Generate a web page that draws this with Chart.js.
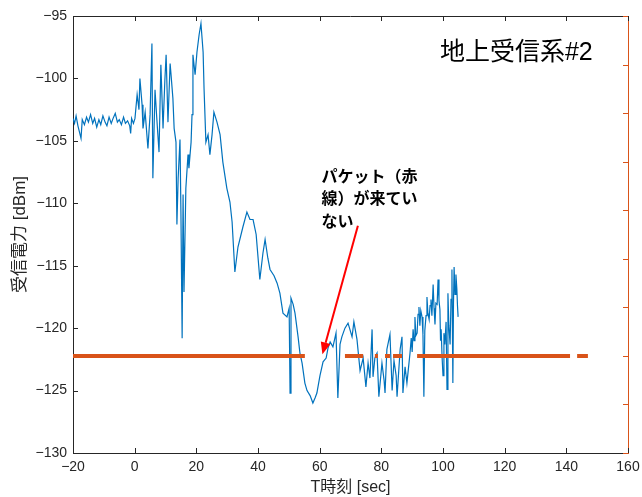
<!DOCTYPE html>
<html>
<head>
<meta charset="utf-8">
<script src="https://cdn.jsdelivr.net/npm/chart.js@4/dist/chart.umd.min.js"></script>
<style>
  html, body { margin: 0; padding: 0; background: #fff; }
  #wrap { width: 642px; height: 497px; position: relative; }
</style>
</head>
<body>
<div id="wrap"><canvas id="c" width="642" height="497"></canvas></div>
<script>
// ---- Data ----
const timeSec = [
  -20, -19.5, -19, -18.4, -17.4, -17, -16.3, -15.6, -15, -14.3, -13.6, -13, -12.3, -11.6, -11, -10.3,
  -9.6, -9, -8.3, -7.6, -7, -6.3, -5.6, -5, -4.3, -3.6, -3, -2.3, -1.6, -1.3, -1, -0.4,
  0.1, 0.8, 1.4, 1.7, 2.4, 2.7, 3.4, 4.3, 5.0, 5.6, 5.9, 6.6, 7.2, 7.9, 8.5, 9.2, 9.8, 10.2,
  10.8, 11.5, 11.8, 12.4, 12.8, 13.4, 13.7, 14.1, 14.7, 15.0, 15.4, 15.7, 16.0, 16.6, 17.3, 17.6,
  18.3, 18.6, 18.9, 19.6, 20.2, 20.9, 21.5, 22.2, 22.5, 23.1, 23.8, 24.4, 25.1, 25.7, 26.7, 27.7,
  28.6, 29.9, 30.9, 31.6, 32.5, 33.5, 35.1, 36.4, 37.4, 38.4, 39.4, 40.6, 41.6, 42.3, 43.2, 43.9,
  45.2, 46.2, 47.1, 48.1, 49.4, 50.1, 50.4, 50.7, 51.4, 52.0, 53.0, 53.6, 54.3, 55.2, 55.9, 56.9,
  57.8, 58.5, 59.1, 60.1, 61.1, 62.1, 62.7, 63.4, 64.3, 65.3, 65.9, 66.6, 67.2, 68.2, 69.2, 69.8,
  70.5, 71.1, 72.1, 73.1, 74.1, 75.0, 75.7, 76.3, 77.0, 77.3, 77.9, 78.6, 79.2, 80.2, 80.9, 81.2,
  81.8, 82.8, 83.5, 84.1, 84.8, 85.1, 86.1, 86.7, 87.0, 87.7, 88.3,
  89.3, 89.7, 90.0, 90.3, 90.6, 90.9, 91.2, 91.6, 91.9, 92.2, 92.5, 92.8, 93.2, 93.5, 93.8, 94.1,
  94.5, 94.8, 95.1, 95.5, 95.8, 96.1, 96.4, 96.8, 97.1, 97.4, 97.7, 98.1, 98.4, 98.7, 99.0, 99.2,
  99.4, 99.7, 100.0, 100.3, 100.6, 101.0, 101.3, 101.6, 101.9, 102.3, 102.6, 102.9, 103.2, 103.4, 103.6, 103.9,
  104.2, 104.5, 104.7, 104.9
];
const powerDbm = [
  -103.2, -103.6, -103.0, -103.8, -104.8, -103.3, -103.7, -103.1, -103.5, -102.9, -103.6, -103.2, -103.9, -103.3, -103.7, -103.0,
  -103.5, -103.8, -103.1, -103.6, -103.2, -102.8, -103.5, -103.3, -103.7, -103.1, -103.6, -103.4, -103.8, -104.4, -103.2, -103.6,
  -103.2, -101.3, -102.5, -100.0, -102.1, -104.0, -102.7, -105.6, -102.9, -97.2, -108.0, -100.9, -103.3, -105.9, -98.9, -104.0, -100.1, -98.1,
  -103.5, -98.8, -99.7, -101.6, -104.0, -105.1, -111.7, -108.0, -104.9, -110.7, -120.8, -109.3, -117.1, -108.8, -106.1, -107.2,
  -105.1, -102.9, -98.1, -99.7, -97.9, -96.5, -95.6, -97.9, -100.8, -105.1, -104.5, -106.1, -104.5, -102.7, -103.5, -104.5,
  -106.7, -108.8, -109.9, -111.5, -115.5, -113.5, -111.9, -110.7, -111.3, -111.3, -112.5, -116.1, -114.0, -112.9, -114.4, -115.3,
  -115.8, -116.4, -117.2, -118.8, -119.1, -118.4, -125.2, -117.6, -118.1, -118.8, -120.7, -122.0, -122.8, -124.4, -125.0, -125.4,
  -126.0, -125.6, -125.2, -123.8, -122.7, -122.4, -121.6, -121.1, -121.5, -120.4, -125.6, -121.3, -120.7, -120.0, -119.6, -120.1,
  -120.7, -119.5, -120.9, -123.4, -122.4, -124.7, -122.8, -124.0, -120.1, -123.9, -122.4, -122.0, -125.5, -122.8, -124.2, -125.2,
  -121.7, -120.5, -125.0, -122.6, -123.8, -125.5, -121.7, -120.7, -125.2, -123.1, -124.4,
  -122.0, -120.8, -121.9, -120.1, -121.0, -119.1, -120.6, -120.4, -118.9, -118.3, -119.8, -118.6, -119.1, -120.5, -125.5, -120.2,
  -119.0, -117.5, -118.8, -119.3, -118.2, -117.7, -119.0, -116.5, -118.4, -119.7, -118.0, -118.1, -116.1, -117.8, -118.5, -121.0,
  -120.1, -122.3, -123.8, -120.4, -121.3, -119.5, -124.9, -117.2, -119.8, -121.3, -117.7, -115.3, -124.4, -118.0, -115.1, -117.3,
  -115.7, -116.9, -118.2, -119.1
];
// packet received intervals (red line), on the right axis at level 2
const packetStart = [-20, 68.2, 77.9, 81.2, 83.8, 91.6, 143.5];
const packetEnd   = [55.2, 74.1, 78.9, 82.8, 86.7, 141.2, 147.0];
const packetLevel = 2;

const xTicks = [-20, 0, 20, 40, 60, 80, 100, 120, 140, 160];
const yTicks = [-130, -125, -120, -115, -110, -105, -100, -95];
const y2Ticks = [0, 1, 2, 3, 4, 5, 6, 7, 8, 9];

const xTitle = 'T時刻 [sec]';
const yTitle = '受信電力 [dBm]';
const chartTitle = '地上受信系#2';
const noteLines = ['パケット（赤', '線）が来てい', 'ない'];

// ---- Build datasets ----
const blueData = timeSec.map((t, i) => ({ x: t, y: powerDbm[i] }));
const packetData = [];
packetStart.forEach((s, i) => {
  packetData.push({ x: s, y: packetLevel });
  packetData.push({ x: packetEnd[i], y: packetLevel });
  packetData.push({ x: (packetEnd[i] + (packetStart[i + 1] ?? packetEnd[i] + 1)) / 2, y: null });
});

const AX = '#262626';
const ORANGE = '#D95319';
const BLUE = '#0072BD';
const FONT = '"Liberation Sans", "Noto Sans CJK JP", sans-serif';

const fmtMinus = v => String(v).replace('-', '\u2212');

const framePlugin = {
  id: 'frame',
  afterDatasetsDraw(chart) {
    const { ctx, chartArea: a, scales } = chart;
    ctx.save();
    ctx.lineWidth = 1;
    ctx.strokeStyle = AX;
    ctx.beginPath();
    ctx.moveTo(a.left, a.top + 0.5);
    ctx.lineTo(a.right, a.top + 0.5);
    ctx.stroke();
    const tl = 5;
    ctx.beginPath();
    xTicks.forEach(v => {
      const px = Math.round(scales.x.getPixelForValue(v)) + 0.5;
      ctx.moveTo(px, a.bottom); ctx.lineTo(px, a.bottom - tl);
      ctx.moveTo(px, a.top); ctx.lineTo(px, a.top + tl);
    });
    yTicks.forEach(v => {
      const py = Math.round(scales.y.getPixelForValue(v)) + 0.5;
      ctx.moveTo(a.left, py); ctx.lineTo(a.left + tl, py);
    });
    ctx.stroke();
    ctx.strokeStyle = ORANGE;
    ctx.beginPath();
    y2Ticks.forEach(v => {
      const py = Math.round(scales.y2.getPixelForValue(v)) + 0.5;
      ctx.moveTo(a.right, py); ctx.lineTo(a.right - tl, py);
    });
    ctx.stroke();
    ctx.restore();
  },
  afterDraw(chart) {
    const { ctx, scales } = chart;
    const X = v => scales.x.getPixelForValue(v);
    const Y = v => scales.y.getPixelForValue(v);
    ctx.save();
    ctx.fillStyle = '#000';
    ctx.font = '25px ' + FONT;
    ctx.textBaseline = 'middle';
    ctx.textAlign = 'left';
    ctx.fillText(chartTitle, X(99.0), Y(-98.0));
    ctx.font = 'bold 16px "Noto Sans CJK JP", sans-serif';
    const noteY = [-107.8, -109.6, -111.4];
    noteLines.forEach((s, i) => ctx.fillText(s, X(60.6), Y(noteY[i])));
    const x1 = X(72.4), y1 = Y(-111.8), x2 = X(60.9), y2 = Y(-122.1);
    const ang = Math.atan2(y2 - y1, x2 - x1);
    const hl = 12, hw = 5;
    const bx = x2 - hl * Math.cos(ang), by = y2 - hl * Math.sin(ang);
    ctx.strokeStyle = '#FF0000';
    ctx.fillStyle = '#FF0000';
    ctx.lineWidth = 2;
    ctx.beginPath();
    ctx.moveTo(x1, y1); ctx.lineTo(bx, by);
    ctx.stroke();
    ctx.beginPath();
    ctx.moveTo(x2, y2);
    ctx.lineTo(bx + hw * Math.sin(ang), by - hw * Math.cos(ang));
    ctx.lineTo(bx - hw * Math.sin(ang), by + hw * Math.cos(ang));
    ctx.closePath();
    ctx.fill();
    ctx.restore();
  }
};

new Chart(document.getElementById('c'), {
  type: 'line',
  data: {
    datasets: [
      {
        label: 'packet',
        data: packetData,
        yAxisID: 'y2',
        borderColor: ORANGE,
        borderWidth: 4,
        pointRadius: 0,
        spanGaps: false,
        order: 0
      },
      {
        label: 'power',
        data: blueData,
        yAxisID: 'y',
        borderColor: BLUE,
        borderWidth: 1.2,
        pointRadius: 0,
        tension: 0,
        order: 1
      }
    ]
  },
  options: {
    responsive: false,
    animation: false,
    devicePixelRatio: 1,
    layout: { padding: { top: 16, left: 0, right: 0, bottom: 0 } },
    plugins: { legend: { display: false }, tooltip: { enabled: false } },
    scales: {
      x: {
        type: 'linear',
        min: -20, max: 160,
        afterBuildTicks: s => { s.ticks = xTicks.map(v => ({ value: v })); },
        grid: { display: false, drawTicks: false },
        border: { display: true, color: AX, width: 1 },
        ticks: {
          color: AX, padding: 6,
          font: { family: FONT, size: 14 },
          callback: v => fmtMinus(v),
          maxRotation: 0
        },
        title: {
          display: true, text: xTitle, color: AX,
          font: { family: FONT, size: 16 },
          padding: { top: 0, bottom: 0 }
        },
        afterFit: s => { s.height = 44; s.paddingLeft = 0; s.paddingRight = 0; }
      },
      y: {
        type: 'linear',
        position: 'left',
        min: -130, max: -95,
        afterBuildTicks: s => { s.ticks = yTicks.map(v => ({ value: v })); },
        grid: { display: false, drawTicks: false },
        border: { display: true, color: AX, width: 1 },
        ticks: {
          color: AX, padding: 6,
          font: { family: FONT, size: 14 },
          callback: v => fmtMinus(v)
        },
        title: {
          display: true, text: yTitle, color: AX,
          font: { family: FONT, size: 17 },
          padding: { top: 10, bottom: 0 }
        },
        afterFit: s => { s.width = 73; s.paddingTop = 0; s.paddingBottom = 0; }
      },
      y2: {
        type: 'linear',
        position: 'right',
        min: 0, max: 9,
        afterBuildTicks: s => { s.ticks = y2Ticks.map(v => ({ value: v })); },
        grid: { display: false, drawTicks: false },
        border: { display: true, color: ORANGE, width: 1 },
        ticks: { display: false },
        afterFit: s => { s.width = 14; s.paddingTop = 0; s.paddingBottom = 0; }
      }
    }
  },
  plugins: [framePlugin]
});
</script>
</body>
</html>
